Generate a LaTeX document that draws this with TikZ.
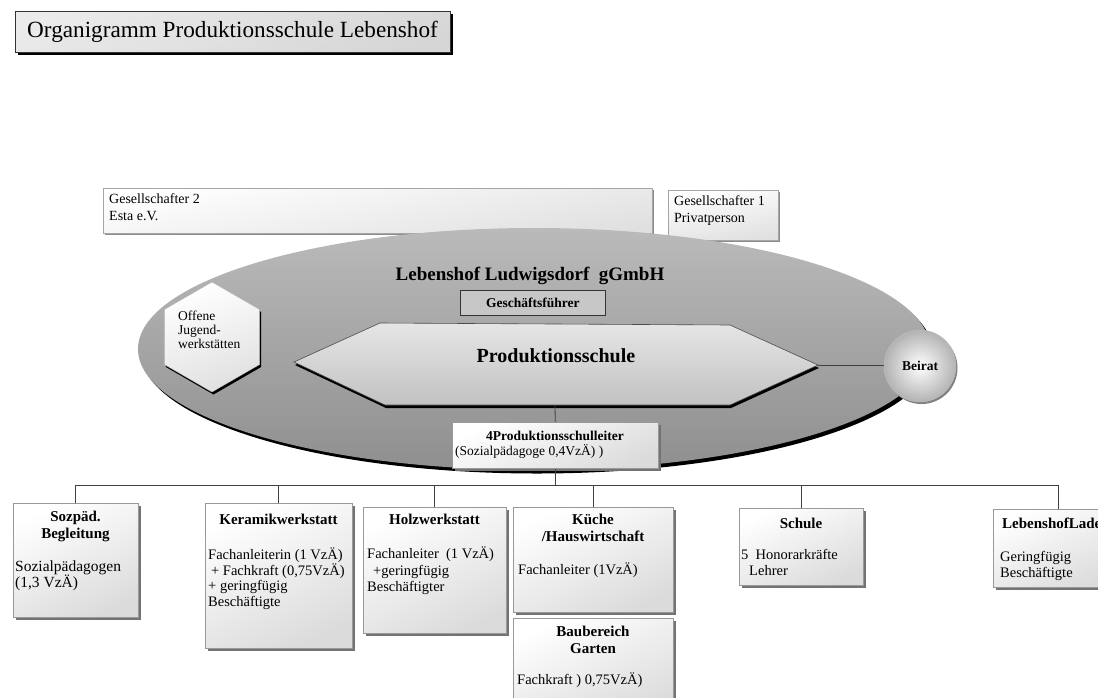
\documentclass[tikz,border=0pt]{standalone}
\usepackage{fontspec}
\setmainfont{Liberation Serif}
\usetikzlibrary{shapes.geometric,shadows,calc}
\begin{document}
\begin{tikzpicture}[x=1pt,y=-1pt,
  every node/.style={inner sep=0pt},
  body/.style={font=\fontsize{14.5}{16}\selectfont},
  ttl/.style={font=\bfseries\fontsize{15}{16.5}\selectfont, align=center},
  conn/.style={draw=black!75, line width=0.8pt},
  orgbox/.style={draw=black!40, line width=0.5pt, anchor=north west,
     shading=axis, top color=white, bottom color=black!14, shading angle=25,
     drop shadow={shadow xshift=2.5pt, shadow yshift=-2.5pt, fill=black!55, opacity=1}},
  gesbox/.style={draw=black!35, line width=0.5pt, anchor=north west,
     shading=axis, top color=white, bottom color=black!12, shading angle=10,
     drop shadow={shadow xshift=1.5pt, shadow yshift=-2pt, fill=black!45, opacity=1}},
]
\useasboundingbox (0,0) rectangle (1098,697);
\fill[white] (0,0) rectangle (1098,697);

% title
\node[draw=black!80, line width=0.5pt, anchor=north west, minimum width=435pt, minimum height=41pt,
  shading=axis, top color=black!8, bottom color=black!16, shading angle=20,
  drop shadow={shadow xshift=3pt, shadow yshift=-3pt, fill=black, opacity=1}] (titlebox) at (15,11) {};
\node[anchor=west, font=\fontsize{23.2}{26}\selectfont] (title) at (27,32) {Organigramm Produktionsschule Lebenshof};

% shareholders
\node[gesbox, minimum width=549pt, minimum height=45pt] (ges2) at (103,188) {};
\node[anchor=north west, align=left, font=\fontsize{14}{16.5}\selectfont] (ges2t) at (109,193.5) {Gesellschafter 2\\Esta e.V.};
\node[gesbox, minimum width=110pt, minimum height=50pt] (ges1) at (668,190) {};
\node[anchor=north west, align=left, font=\fontsize{14}{17}\selectfont] (ges1t) at (674,195.5) {Gesellschafter 1\\Privatperson};

% big ellipse
\node[ellipse, minimum width=792pt, minimum height=242pt,
  shading=axis, top color=black!27, bottom color=black!44,
  drop shadow={shadow xshift=3pt, shadow yshift=-3.5pt, fill=black, opacity=1}] (gmbh) at (534,349) {};
\node[font=\bfseries\fontsize{19}{22}\selectfont] (gmbht) at (530,276) {Lebenshof Ludwigsdorf\ \ gGmbH};
\node[draw=black!80, line width=0.7pt, fill=black!22, anchor=north west, minimum width=145pt, minimum height=25pt,
  font=\bfseries\fontsize{13.5}{15}\selectfont] (gf) at (460,290) {Geschäftsführer};

% Offene Jugendwerkstaetten
\node[regular polygon, regular polygon sides=6, shape border rotate=30, minimum size=110pt,
  shading=axis, top color=white, bottom color=black!12, shading angle=20, draw=black!30,
  drop shadow={shadow xshift=1.5pt, shadow yshift=-2.5pt, fill=black, opacity=1}] (offene) at (212,337) {};
\node[anchor=north west, align=left, font=\fontsize{13.5}{14}\selectfont] (offenet) at (178,311) {Offene\\Jugend-\\werkstätten};

% Produktionsschule arrow-hexagon
\fill[black] ($(294,362)+(1,3)$) -- ($(380,323)+(1,3)$) -- ($(730,325)+(1,3)$) -- ($(818,365)+(1,3)$) -- ($(730,405)+(1,3)$) -- ($(385,405)+(1,3)$) -- cycle;
\path[draw=black!70, line width=0.6pt, shading=axis, top color=black!10, bottom color=black!24]
  (294,362) -- (380,323) -- (730,325) -- (818,365) -- (730,405) -- (385,405) -- cycle;
\coordinate (prodR) at (818,365);
\coordinate (prodB) at (555,405);
\node[font=\bfseries\fontsize{20}{23}\selectfont] (prod) at (556,356) {Produktionsschule};

% Beirat
\node[circle, minimum size=72pt, draw=black!25, inner color=white, outer color=black!30,
  drop shadow={shadow xshift=1.5pt, shadow yshift=-2pt, fill=black!50, opacity=1},
  font=\bfseries\fontsize{13.5}{15}\selectfont] (beirat) at (920,366) {Beirat};
\draw[conn] (prodR) -- (beirat.west |- prodR);

% leader
\node[orgbox, minimum width=206pt, minimum height=46pt] (leader) at (452,422) {};
\draw[conn] (prodB) -- (leader.north);
\node[font=\bfseries\fontsize{13.5}{15}\selectfont] (leadert) at (555,436) {4Produktionsschulleiter};
\node[anchor=west, font=\fontsize{13.5}{15}\selectfont] (leaderb) at (455,451) {(Sozialpädagoge 0,4VzÄ) )};

% bottom boxes
\node[orgbox, minimum width=125pt, minimum height=114pt] (soz) at (13,503) {};
\node[orgbox, minimum width=147pt, minimum height=145pt] (ker) at (205,503) {};
\node[orgbox, minimum width=143pt, minimum height=126pt] (holz) at (363,507) {};
\node[orgbox, minimum width=160pt, minimum height=105pt] (kue) at (513,507) {};
\node[orgbox, minimum width=160pt, minimum height=100pt] (bau) at (513,618) {};
\node[orgbox, minimum width=124pt, minimum height=77pt] (sch) at (739,508) {};
\node[orgbox, minimum width=130pt, minimum height=78pt] (lad) at (993,509) {};

% bus
\coordinate (bus) at (0,485);
\draw[conn] (soz.north) |- (lad.north |- bus) -- (lad.north);
\draw[conn] (leader.south) -- (leader.south |- bus);
\draw[conn] (ker.north) -- (ker.north |- bus);
\draw[conn] (holz.north) -- (holz.north |- bus);
\draw[conn] (kue.north) -- (kue.north |- bus);
\draw[conn] (sch.north) -- (sch.north |- bus);

% texts in boxes
\node[ttl, anchor=north] (sozt) at (75.5,511) {Sozpäd.\\Begleitung};
\node[anchor=north west, align=left, font=\fontsize{15.5}{16.5}\selectfont] (sozb) at (15,560.5) {Sozialpädagogen\\(1,3 VzÄ)};

\node[ttl, anchor=north] (kert) at (278.5,514) {Keramikwerkstatt};
\node[body, anchor=north west, align=left, font=\fontsize{14.5}{15.5}\selectfont] (kerb) at (208,548)
  {Fachanleiterin (1 VzÄ)\\\hspace*{3pt}+ Fachkraft (0,75VzÄ)\\+ geringfügig\\Beschäftigte};

\node[ttl, anchor=north] (holzt) at (434.5,514) {Holzwerkstatt};
\node[body, anchor=north west, align=left, font=\fontsize{14.5}{16.5}\selectfont] (holzb) at (367,547)
  {Fachanleiter\ \ (1 VzÄ)\\\hspace*{6pt}+geringfügig\\Beschäftigter};

\node[ttl, anchor=north, font=\bfseries\fontsize{15}{17}\selectfont] (kuet) at (593,514) {Küche\\/Hauswirtschaft};
\node[body, anchor=west] (kueb) at (518,570) {Fachanleiter (1VzÄ)};

\node[ttl, anchor=north] (baut) at (593,626) {Baubereich\\Garten};
\node[body, anchor=west] (baub) at (517,680) {Fachkraft ) 0,75VzÄ)};

\node[ttl] (scht) at (801,523) {Schule};
\node[body, anchor=north west, align=left] (schb) at (741,549) {5\ \ Honorarkräfte\\\hspace*{8pt}Lehrer};

\node[ttl, anchor=west] (ladt) at (1002,523) {LebenshofLaden};
\node[body, anchor=north west, align=left] (ladb) at (1000,551) {Geringfügig\\Beschäftigte};
\end{tikzpicture}
\end{document}
